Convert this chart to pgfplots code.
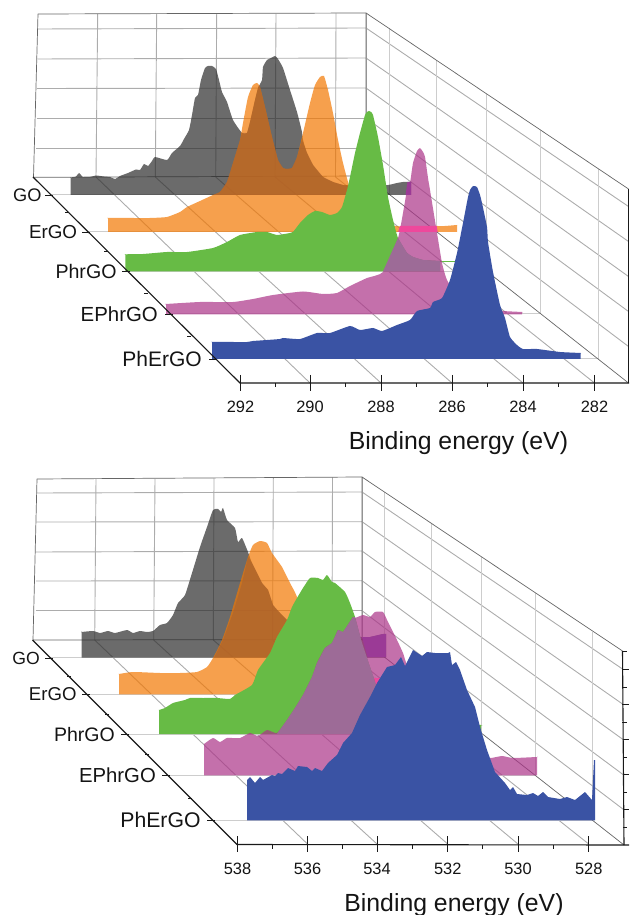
\documentclass[border=0pt]{standalone}
\usepackage{pgfplots}
\pgfplotsset{compat=1.18}
\usepackage{fontspec}
\setmainfont{Liberation Sans}
\definecolor{cgray}{RGB}{44,44,44}
\definecolor{corange}{RGB}{242,119,1}
\definecolor{cgreen}{RGB}{103,187,69}
\definecolor{cpink}{RGB}{171,51,136}
\definecolor{cblue}{RGB}{58,83,164}
\definecolor{cbrown}{RGB}{168,98,50}
\definecolor{cmauve}{RGB}{157,107,151}
\definecolor{chot}{RGB}{238,72,156}
\definecolor{cpurple}{RGB}{155,58,150}
\definecolor{gridA}{RGB}{172,172,172}
\definecolor{gridB}{RGB}{205,205,205}
\definecolor{txt}{RGB}{20,20,20}
\pgfplotsset{
  panel/.style={width=629pt,height=457.5pt,scale only axis,xmin=0,xmax=629,y dir=reverse,axis lines=none,anchor=south west},
  wall/.style={draw=gridA,line width=0.9pt,no marks},
  light/.style={draw=gridB,line width=1pt,no marks},
  edge/.style={draw=black!60,line width=0.7pt,no marks},
  ax/.style={draw=black!90,line width=1.1pt,no marks},
  tk/.style={draw=black!90,line width=0.9pt,no marks},
  sm/.style={smooth,tension=0.3},
  sheer/.style={draw=none,fill opacity=0.7,no marks,sm},
  solid fill/.style={draw=none,no marks},
  solid curve/.style={draw=none,no marks,sm}
}
\newcommand{\lab}[3]{\node[anchor=base east,inner sep=0pt,text=txt] at (axis cs:#1) {\fontsize{#2}{#2}\selectfont #3};}
\newcommand{\num}[2]{\node[anchor=base,inner sep=0pt,text=txt] at (axis cs:#1) {\fontsize{16.4}{16.4}\selectfont #2};}
\begin{document}
\begin{tikzpicture}[x=1pt,y=1pt]
\useasboundingbox (0,0) rectangle (629pt,915pt);
% ===== upper panel =====
\begin{axis}[panel,at={(0pt,457.5pt)},ymin=0,ymax=457.5]
% back wall
\addplot[wall] coordinates {(38,29)(366,28)};
\addplot[wall] coordinates {(37.5,59)(366,58)};
\addplot[wall] coordinates {(37,88.5)(366,88)};
\addplot[wall] coordinates {(36.5,118)(366,118)};
\addplot[wall] coordinates {(36,148)(366,148)};
\addplot[wall] coordinates {(97.7,14)(96,177)};
\addplot[wall] coordinates {(156.7,14)(155.3,177)};
\addplot[wall] coordinates {(216.7,14)(215.7,177)};
\addplot[wall] coordinates {(276,14)(275,177)};
\addplot[wall] coordinates {(336,13.5)(335.5,177)};
\addplot[wall] coordinates {(366,13)(366,176)};
% right wall
\addplot[wall] coordinates {(366,28)(628.5,206.5)};
\addplot[wall] coordinates {(366,58)(628.5,241.5)};
\addplot[wall] coordinates {(366,88)(628.5,276.5)};
\addplot[wall] coordinates {(366,118)(628.5,311.5)};
\addplot[wall] coordinates {(366,148)(628.5,346.5)};
\addplot[light] coordinates {(389,28.5)(389,195)};
\addplot[light] coordinates {(436,60)(436,232)};
\addplot[light] coordinates {(486,94)(486,271.5)};
\addplot[light] coordinates {(540,130)(540,314)};
\addplot[light] coordinates {(598,169)(598,359)};
% floor
\addplot[wall] coordinates {(96,177)(310,383)};
\addplot[wall] coordinates {(155.3,177)(381,383)};
\addplot[wall] coordinates {(215.7,177)(452,383)};
\addplot[wall] coordinates {(275,177)(523,383)};
\addplot[wall] coordinates {(335.5,177)(594.5,383)};
\addplot[light] coordinates {(51,195)(389,195)};
\addplot[light] coordinates {(88,232)(436,232)};
\addplot[light] coordinates {(128,271.5)(486,271.5)};
\addplot[light] coordinates {(171,314)(540,314)};
\addplot[light] coordinates {(216,359)(598,359)};
% outline
\addplot[edge] coordinates {(38,14)(366,13)(628.5,189)};
\addplot[edge] coordinates {(38,14)(33.5,177.3)(366,176)};
\addplot[edge] coordinates {(366,13)(366,176)(628.5,383)};
\addplot[ax] coordinates {(628.5,189)(628.5,383)};
% series
\addplot[sheer,fill=cgray] coordinates {(70.5,195)(70.5,178)(70.5,177.5)(76,176.5)(79,173)(83,177)(90,177)(96,175.5)(104,176.5)(110,177)(115,179)(120,176)(128,173)(136,169.5)(140,170)(144,164)(148,166)(152,161)(155,157)(167,160)(172,153)(180,146)(184,139)(189,130)(192,115)(195,98)(198,95)(201,80)(205,68)(208,66)(212,66)(216,69)(219,80)(222,92)(227,102)(233,120)(242,133)(247,133)(250,122)(255,100)(258,88)(262,80)(263,67)(267,60)(271,58)(275,56)(278,59)(283,68)(290,90)(297,112)(302,132)(303,140)(307,153)(313,165)(323,177)(333,182)(343,185)(348,185)(370,186)(388,185)(397,183)(403,182)(411,182)(411,182.5)(411,195)} -- cycle;
\addplot[sheer,fill=corange] coordinates {(108,232)(108,218.5)(108,218)(133,218)(150,218)(167,217)(180,212)(187,207)(200,201)(213,195)(220,192)(227,182)(233,163)(240,140)(243,123)(248,97)(253,85)(257,83)(260,87)(265,107)(272,137)(278,160)(283,168)(287,169)(292,168)(297,157)(303,133)(310,103)(315,85)(320,77)(324,76)(328,90)(333,113)(338,140)(343,163)(348,182)(352,195)(365,215)(395,226)(437,226)(445,226)(457,225)(457,225.5)(457,232)} -- cycle;
\addplot[fill=cbrown,draw=none,fill opacity=0.6,no marks] coordinates {(213,195)(220,192)(227,182)(233,163)(240,140)(242,133)(247,133)(250,122)(255,100)(258,88)(259,85)(260,87)(265,107)(272,137)(278,160)(283,168)(287,169)(292,168)(297,157)(302,140)(307,153)(313,165)(323,177)(333,182)(343,185)(350,187)(360,195)} -- cycle;
\addplot[solid curve,fill=cgreen] coordinates {(125.3,271.5)(125.3,255)(125.3,254.3)(143,254)(167,252)(187,252)(213,248)(227,242)(240,235)(257,232)(267,232)(277,235)(290,233)(293,232)(300,223)(308,215)(315,211)(322,212)(330,215)(337,213)(342,207)(347,190)(350,177)(355,153)(360,133)(365,115)(367,112)(369,111)(371,112)(373,115)(378,137)(383,165)(388,197)(393,220)(398,238)(407,253)(413,257)(423,260)(440,261)(440,261.5)(440,271.5)} -- cycle;
\addplot[draw=cgreen,line width=0.7pt,no marks] coordinates {(440,261)(455,261)};
\addplot[sheer,fill=cpink] coordinates {(166,314.5)(166,304.5)(166,304)(200,302)(233,302)(253,299)(273,295)(303,291.5)(323,294)(337,293)(350,286)(367,278)(383,272)(398,238)(403,213)(407,190)(410,183)(413,163)(417,151)(420,148)(423,152)(425,157)(428,178)(430,190)(437,233)(442,263)(447,280)(460,300)(475,308)(503,311)(522,312)(522,312.5)(522,314.5)} -- cycle;
\addplot[solid fill,fill=cmauve] coordinates {(383,271.5)(398,238)(407,253)(413,257)(423,260)(440,261)(440,271.5)} -- cycle;
\addplot[solid fill,fill=chot] coordinates {(400,226)(436.7,226)(437.7,232)(398,232)} -- cycle;
\addplot[solid fill,fill=cpurple] coordinates {(407.5,182)(411,182)(411,195)(405.5,195)} -- cycle;
\addplot[solid curve,fill=cblue] coordinates {(212,359)(212,342.5)(212,342)(233,342)(247,342)(253,341)(267,340)(280,339)(283,338)(300,339)(317,333)(330,333)(350,326)(360,330)(373,328)(382,331)(397,325)(410,320)(417,311)(430,308)(433,302)(442,298)(450,280)(457,253)(463,223)(468,197)(470,190)(473,186)(477,187)(480,195)(482,203)(487,227)(488,242)(493,272)(500,305)(505,318)(510,337)(517,345)(523,349)(537,349)(560,352)(580.5,353)(580.5,353.5)(580.5,359)} -- cycle;
% axes
\addplot[ax] coordinates {(33,177)(240,383)(629,383)};
\addplot[tk] coordinates {(240.5,375)(240.5,391)};
\addplot[tk] coordinates {(310,375)(310,391)};
\addplot[tk] coordinates {(381,375)(381,391)};
\addplot[tk] coordinates {(452,375)(452,391)};
\addplot[tk] coordinates {(523,375)(523,391)};
\addplot[tk] coordinates {(594.5,375)(594.5,391)};
\addplot[tk] coordinates {(275.3,383)(275.3,387.5)};
\addplot[tk] coordinates {(345.5,383)(345.5,387.5)};
\addplot[tk] coordinates {(416.5,383)(416.5,387.5)};
\addplot[tk] coordinates {(487.5,383)(487.5,387.5)};
\addplot[tk] coordinates {(558.8,383)(558.8,387.5)};
\addplot[tk] coordinates {(45,195)(53,195)};
\addplot[tk] coordinates {(82,232)(90,232)};
\addplot[tk] coordinates {(122,271.5)(130,271.5)};
\addplot[tk] coordinates {(165,314)(173,314)};
\addplot[tk] coordinates {(209,359)(217,359)};
\addplot[tk] coordinates {(65,212)(69,212)};
\addplot[tk] coordinates {(104,251)(108,251)};
\addplot[tk] coordinates {(144,293)(148,293)};
\addplot[tk] coordinates {(187,336)(191,336)};
\lab{41.7,201.5}{18.2}{GO}
\lab{77.3,238.7}{18.8}{ErGO}
\lab{116.7,278.5}{19.6}{PhrGO}
\lab{158,321.3}{20.4}{EPhrGO}
\lab{202,366.5}{21}{PhErGO}
\num{240.5,413}{292}
\num{310,413}{290}
\num{381,413}{288}
\num{452,413}{286}
\num{523,413}{284}
\num{594.5,413}{282}
\node[anchor=base,inner sep=0pt,text=txt] at (axis cs:458.5,450) {\fontsize{24.8}{24.8}\selectfont Binding energy (eV)};
\end{axis}
% ===== lower panel =====
\begin{axis}[panel,at={(0pt,0pt)},ymin=457.5,ymax=915]
\addplot[wall] coordinates {(37,493)(362,492)};
\addplot[wall] coordinates {(36.5,522)(362,521.7)};
\addplot[wall] coordinates {(36,552)(362,551)};
\addplot[wall] coordinates {(36,581)(362,580.7)};
\addplot[wall] coordinates {(35.5,610.7)(362,610.7)};
\addplot[wall] coordinates {(96,479)(94.7,640)};
\addplot[wall] coordinates {(155,479)(153.7,640)};
\addplot[wall] coordinates {(214,478.5)(213.3,640)};
\addplot[wall] coordinates {(273.3,478)(272.5,640)};
\addplot[wall] coordinates {(332.5,477.5)(332,640)};
\addplot[wall] coordinates {(362,477)(362,640)};
\addplot[wall] coordinates {(362,492)(622.5,669)};
\addplot[wall] coordinates {(362,521.7)(622.5,704)};
\addplot[wall] coordinates {(362,551)(623,739.5)};
\addplot[wall] coordinates {(362,580.7)(623,774.5)};
\addplot[wall] coordinates {(362,610.7)(623.5,809.5)};
\addplot[light] coordinates {(384,492)(384,657.7)};
\addplot[light] coordinates {(431.7,524)(431.7,694.3)};
\addplot[light] coordinates {(481.7,557)(481.7,734)};
\addplot[light] coordinates {(535.3,593)(535.3,775.3)};
\addplot[light] coordinates {(592.7,632)(592.7,820.3)};
\addplot[wall] coordinates {(94.7,640)(307.5,844)};
\addplot[wall] coordinates {(153.7,640)(377,844)};
\addplot[wall] coordinates {(213.3,640)(447.7,844)};
\addplot[wall] coordinates {(272.5,640)(518,844)};
\addplot[wall] coordinates {(332,640)(588.7,844)};
\addplot[light] coordinates {(50,657.7)(384,657.7)};
\addplot[light] coordinates {(86,694.3)(431.7,694.3)};
\addplot[light] coordinates {(126,734)(481.7,734)};
\addplot[light] coordinates {(168,775.3)(535.3,775.3)};
\addplot[light] coordinates {(213,820.3)(592.7,820.3)};
\addplot[edge] coordinates {(37,479)(362,477)(622.5,651)};
\addplot[edge] coordinates {(37,479)(33,640)(362,639.5)};
\addplot[edge] coordinates {(362,477)(362,639.5)(624,845)};
\addplot[ax] coordinates {(622.5,651)(624,845)};
\addplot[tk] coordinates {(622,651)(627,651)};
\addplot[tk] coordinates {(622,669)(629,669)};
\addplot[tk] coordinates {(622,687)(627,687)};
\addplot[tk] coordinates {(622,704)(629,704)};
\addplot[tk] coordinates {(622,722)(627,722)};
\addplot[tk] coordinates {(623,739.5)(629,739.5)};
\addplot[tk] coordinates {(623,757)(627,757)};
\addplot[tk] coordinates {(623,774.5)(629,774.5)};
\addplot[tk] coordinates {(623,792)(627,792)};
\addplot[tk] coordinates {(623,809.5)(629,809.5)};
\addplot[tk] coordinates {(623,827)(627,827)};
% series
\addplot[sheer,fill=cgray] coordinates {(81.5,657.7)(81.5,632.5)(81.5,632)(93,631)(100,633)(108,631)(115,633)(127,630)(133,633)(140,631)(147,632)(153,631)(160,625)(167,623)(173,615)(178,603)(185,595)(192,573)(200,547)(207,527)(213,510)(218,509)(221,512)(223,508)(227,520)(235,528)(238,542)(242,538)(248,552)(252,563)(262,583)(268,590)(273,605)(280,613)(287,620)(300,630)(320,636)(340,637)(362,637)(370,637)(383,634)(386,634)(386,634.5)(386,657.7)} -- cycle;
\addplot[sheer,fill=corange] coordinates {(119,694.3)(119,674.5)(119,674)(133,672)(160,673)(180,673)(197,672)(207,667)(213,658)(222,640)(230,617)(240,583)(248,557)(253,545)(260,541)(267,543)(272,553)(282,567)(290,583)(297,597)(310,640)(330,665)(350,675)(376,678)(400,680)(420,680)(420,680.5)(420,694.3)} -- cycle;
\addplot[fill=cbrown,draw=none,fill opacity=0.6,no marks] coordinates {(214,657.7)(223,640)(233,613)(242,583)(248,557)(252,563)(262,583)(268,590)(273,605)(280,613)(287,620)(277,637)(268,657.7)} -- cycle;
\addplot[solid curve,fill=cgreen] coordinates {(159,734)(159,710.5)(159,710)(165,708)(173,703)(185,700)(190,698)(203,698)(217,698)(230,699)(235,695)(252,685)(258,670)(270,653)(277,637)(287,620)(292,607)(297,598)(303,588)(310,578)(318,578)(323,580)(327,575)(332,582)(335,583)(345,592)(350,603)(355,617)(362,643)(370,667)(377,687)(385,705)(400,718)(430,723)(481,725)(481,725.5)(481,734)} -- cycle;
\addplot[sheer,fill=cpink] coordinates {(204,775.3)(204,744.5)(204,744)(213,738)(220,742)(227,738)(240,738)(250,733)(258,736)(267,730)(277,733)(287,720)(295,708)(303,695)(312,677)(317,663)(325,648)(332,643)(338,630)(343,632)(353,617)(355,618)(363,615)(370,617)(375,612)(383,612)(388,622)(397,640)(403,653)(407,665)(420,690)(440,730)(470,755)(490,758)(502,756)(513,758)(537,757)(537,757.5)(537,775.3)} -- cycle;
\addplot[solid fill,fill=chot] coordinates {(374,678)(392,678)(392,694)(378,694)} -- cycle;
\addplot[solid fill,fill=cmauve] coordinates {(277,733.8)(287,720)(295,708)(303,695)(312,677)(317,663)(325,648)(332,643)(338,630)(343,632)(353,617)(355,617)(362,643)(370,667)(377,687)(385,705)(385,733.8)} -- cycle;
\addplot[solid fill,fill=cpurple] coordinates {(362,637)(370,637)(383,634)(386,634)(386,657)(367.5,657)} -- cycle;
\addplot[solid fill,fill=cblue] coordinates {(247,820.3)(247,780)(250,777)(255,783)(260,777)(263,780)(272,775)(275,776)(278,773)(282,774)(288,768)(295,771)(298,766)(307,767)(312,771)(315,768)(322,771)(328,763)(337,755)(343,743)(352,733)(360,715)(370,697)(377,683)(387,667)(395,665)(401,657)(405,666)(413,650)(422,656)(427,652)(435,653)(448,653)(450,652)(452,665)(456,662)(460,670)(467,690)(475,707)(480,727)(487,750)(495,772)(505,783)(510,790)(513,787)(517,794)(527,795)(533,793)(538,796)(543,792)(548,797)(560,799)(567,797)(575,800)(585,792)(592,800)(594,760)(595,760)(595,820.3)} -- cycle;
% axes
\addplot[ax] coordinates {(32.5,640)(237,844.5)(629,845)};
\addplot[tk] coordinates {(237.5,836)(237.5,852)};
\addplot[tk] coordinates {(307.5,836)(307.5,852)};
\addplot[tk] coordinates {(377,836)(377,852)};
\addplot[tk] coordinates {(447.7,836)(447.7,852)};
\addplot[tk] coordinates {(518,836)(518,852)};
\addplot[tk] coordinates {(588.7,836)(588.7,852)};
\addplot[tk] coordinates {(272.5,844.5)(272.5,849)};
\addplot[tk] coordinates {(342.3,844.5)(342.3,849)};
\addplot[tk] coordinates {(412.4,844.5)(412.4,849)};
\addplot[tk] coordinates {(482.9,844.5)(482.9,849)};
\addplot[tk] coordinates {(553.4,844.5)(553.4,849)};
\addplot[tk] coordinates {(45,658)(53,658)};
\addplot[tk] coordinates {(82,694.3)(90,694.3)};
\addplot[tk] coordinates {(121,734)(129,734)};
\addplot[tk] coordinates {(162,775.3)(170,775.3)};
\addplot[tk] coordinates {(207,820.3)(215,820.3)};
\addplot[tk] coordinates {(67,676)(71,676)};
\addplot[tk] coordinates {(105,714)(109,714)};
\addplot[tk] coordinates {(145,754.5)(149,754.5)};
\addplot[tk] coordinates {(188,798)(192,798)};
\lab{40,664.3}{17.6}{GO}
\lab{76.7,700.8}{18.6}{ErGO}
\lab{115,741}{19.5}{PhrGO}
\lab{156,782.3}{20.3}{EPhrGO}
\lab{200.7,827.8}{21.2}{PhErGO}
\num{237.5,874}{538}
\num{307.5,874}{536}
\num{377,874}{534}
\num{447.7,874}{532}
\num{518,874}{530}
\num{588.7,874}{528}
\node[anchor=base,inner sep=0pt,text=txt] at (axis cs:454,911) {\fontsize{24.8}{24.8}\selectfont Binding energy (eV)};
\end{axis}
\end{tikzpicture}
\end{document}
